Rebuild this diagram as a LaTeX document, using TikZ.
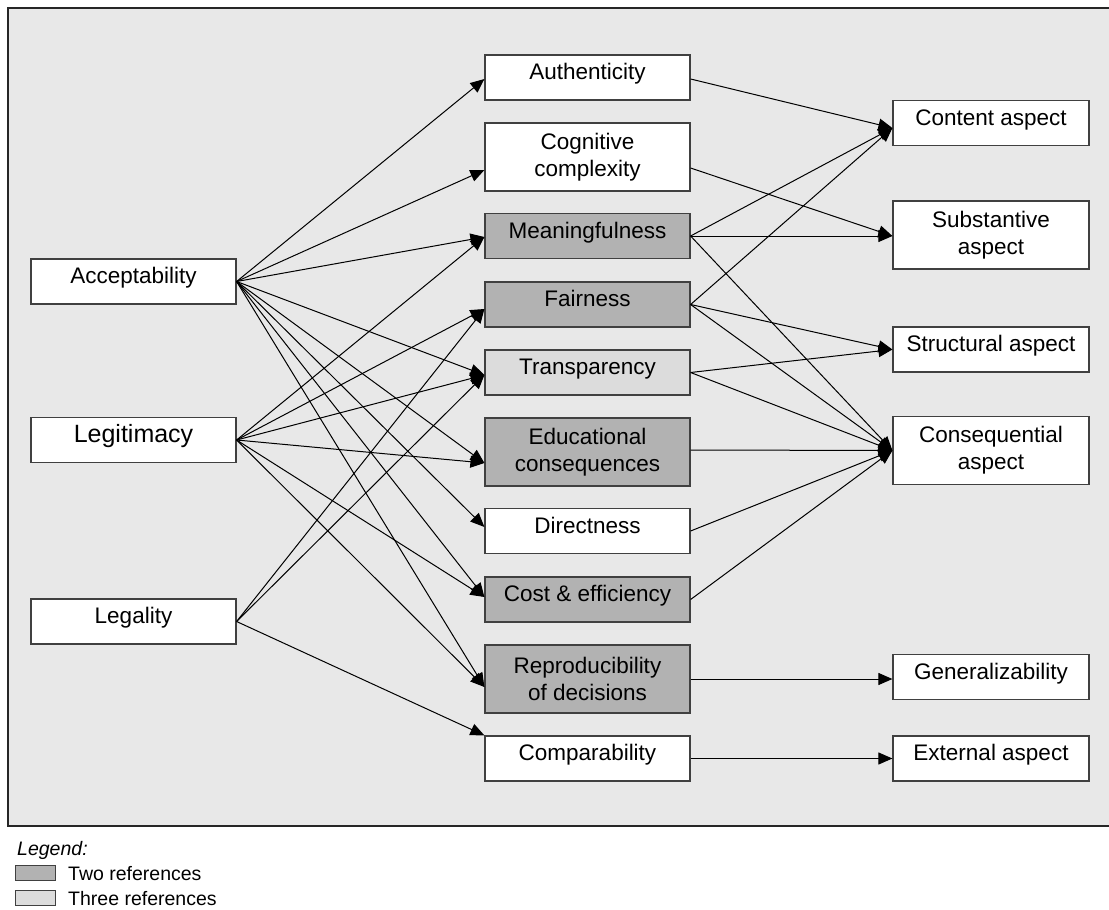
\documentclass[tikz,border=0pt]{standalone}
\usepackage{fontspec}
\setmainfont{Liberation Sans}
\usetikzlibrary{arrows.meta,calc}
\definecolor{panelgray}{HTML}{E8E8E8}
\definecolor{twogray}{HTML}{B2B2B2}
\definecolor{threegray}{HTML}{DCDCDC}
\definecolor{edgegray}{HTML}{404040}
\begin{document}
\begin{tikzpicture}[x=1pt,y=-1pt,
  box/.style={draw=edgegray, line width=1.2pt, fill=white, minimum width=205pt,
    minimum height=45pt, inner sep=0pt, align=center,
    font=\fontsize{22.5}{27}\selectfont},
  one/.style={text height=16pt, text depth=12pt},
  tall/.style={minimum height=68pt},
  narrow/.style={minimum width=196pt},
  two/.style={fill=twogray},
  three/.style={fill=threegray},
  link/.style={line width=1pt, -{Triangle[length=14pt,width=12pt]}},
  swatch/.style={draw=edgegray, line width=1.2pt, minimum width=40pt,
    minimum height=15pt, inner sep=0pt, anchor=north west},
  legtext/.style={anchor=base west, inner sep=0pt, font=\fontsize{19.5}{23}\selectfont},
]
\useasboundingbox (0,0) rectangle (1109,910);
% background panel
\draw[fill=panelgray, draw=black!85, line width=1.5pt] (8,8) rectangle (1130,826);

% left column
\node[box,one] (acc) at (133.5,281.5) {Acceptability};
\node[box,one,font=\fontsize{25}{30}\selectfont] (legit) at (133.5,440) {Legitimacy};
\node[box,one] (legal) at (133.5,621.5) {Legality};

% middle column
\node[box,one] (auth) at (587.5,77.5) {Authenticity};
\node[box,tall] (cog) at (587.5,157) {Cognitive\\complexity};
\node[box,one,two] (mean) at (587.5,236) {Meaningfulness};
\node[box,one,two] (fair) at (587.5,304.5) {Fairness};
\node[box,one,three] (trans) at (587.5,372.5) {Transparency};
\node[box,two,tall] (edu) at (587.5,452) {Educational\\consequences};
\node[box,one] (dir) at (587.5,531) {Directness};
\node[box,one,two] (cost) at (587.5,599.5) {Cost \& efficiency};
\node[box,two,tall] (repro) at (587.5,679) {Reproducibility\\of decisions};
\node[box,one] (comp) at (587.5,758.5) {Comparability};

% right column
\node[box,one,narrow] (content) at (991,123) {Content aspect};
\node[box,tall,narrow] (subst) at (991,235) {Substantive\\aspect};
\node[box,one,narrow] (struct) at (991,349.5) {Structural aspect};
\node[box,tall,narrow] (conseq) at (991,450.5) {Consequential\\aspect};
\node[box,one,narrow] (gen) at (991,677) {Generalizability};
\node[box,one,narrow] (ext) at (991,758.5) {External aspect};

% connection points on the middle column
\coordinate (authL) at ($(auth.west)+(0,1.5)$);
\coordinate (cogL) at ($(cog.west)+(0,13)$);
\coordinate (meanL) at ($(mean.west)+(0,1)$);
\coordinate (fairL) at ($(fair.west)+(0,4.5)$);
\coordinate (transL) at ($(trans.west)+(0,2.5)$);
\coordinate (eduL) at ($(edu.west)+(0,11)$);
\coordinate (dirL) at ($(dir.west)+(0,-4)$);
\coordinate (costL) at ($(cost.west)+(0,-2.5)$);
\coordinate (reproL) at ($(repro.west)+(0,8)$);
\coordinate (authR) at ($(auth.east)+(0,1.5)$);
\coordinate (cogR) at ($(cog.east)+(0,11)$);
\coordinate (eduR) at ($(edu.east)+(0,-2)$);
\coordinate (contentL) at ($(content.west)+(0,5)$);
\coordinate (substL) at ($(subst.west)+(0,1)$);

% Acceptability
\draw[link] (acc.east) -- (authL);
\draw[link] (acc.east) -- (cogL);
\draw[link] (acc.east) -- (meanL);
\draw[link] (acc.east) -- (transL);
\draw[link] (acc.east) -- (eduL);
\draw[link] (acc.east) -- (dirL);
\draw[link] (acc.east) -- (costL);
\draw[link] (acc.east) -- (reproL);
% Legitimacy
\draw[link] (legit.east) -- (meanL);
\draw[link] (legit.east) -- (fairL);
\draw[link] (legit.east) -- (transL);
\draw[link] (legit.east) -- (eduL);
\draw[link] (legit.east) -- (costL);
\draw[link] (legit.east) -- (reproL);
% Legality
\draw[link] (legal.east) -- (fairL);
\draw[link] (legal.east) -- (transL);
\draw[link] (legal.east) -- (comp.north west);

% middle to right
\draw[link] (authR) -- (contentL);
\draw[link] (cogR) -- (substL);
\draw[link] (mean.east) -- (contentL);
\draw[link] (mean.east) -- (substL);
\draw[link] (mean.east) -- (conseq.west);
\draw[link] (fair.east) -- (contentL);
\draw[link] (fair.east) -- (struct.west);
\draw[link] (fair.east) -- (conseq.west);
\draw[link] (trans.east) -- (struct.west);
\draw[link] (trans.east) -- (conseq.west);
\draw[link] (eduR) -- (conseq.west);
\draw[link] (dir.east) -- (conseq.west);
\draw[link] (cost.east) -- (conseq.west);
\draw[link] (repro.east) -- (gen.west |- repro.east);
\draw[link] (comp.east) -- (ext.west);

% legend
\node[legtext, font=\fontsize{19.5}{23}\selectfont\itshape] (legend) at (17,855) {Legend:};
\node[swatch, fill=twogray] (sw2) at (15,865) {};
\node[legtext] (lt2) at (68,880) {Two references};
\node[swatch, fill=threegray] (sw3) at (15,890) {};
\node[legtext] (lt3) at (68,905) {Three references};
\end{tikzpicture}
\end{document}
